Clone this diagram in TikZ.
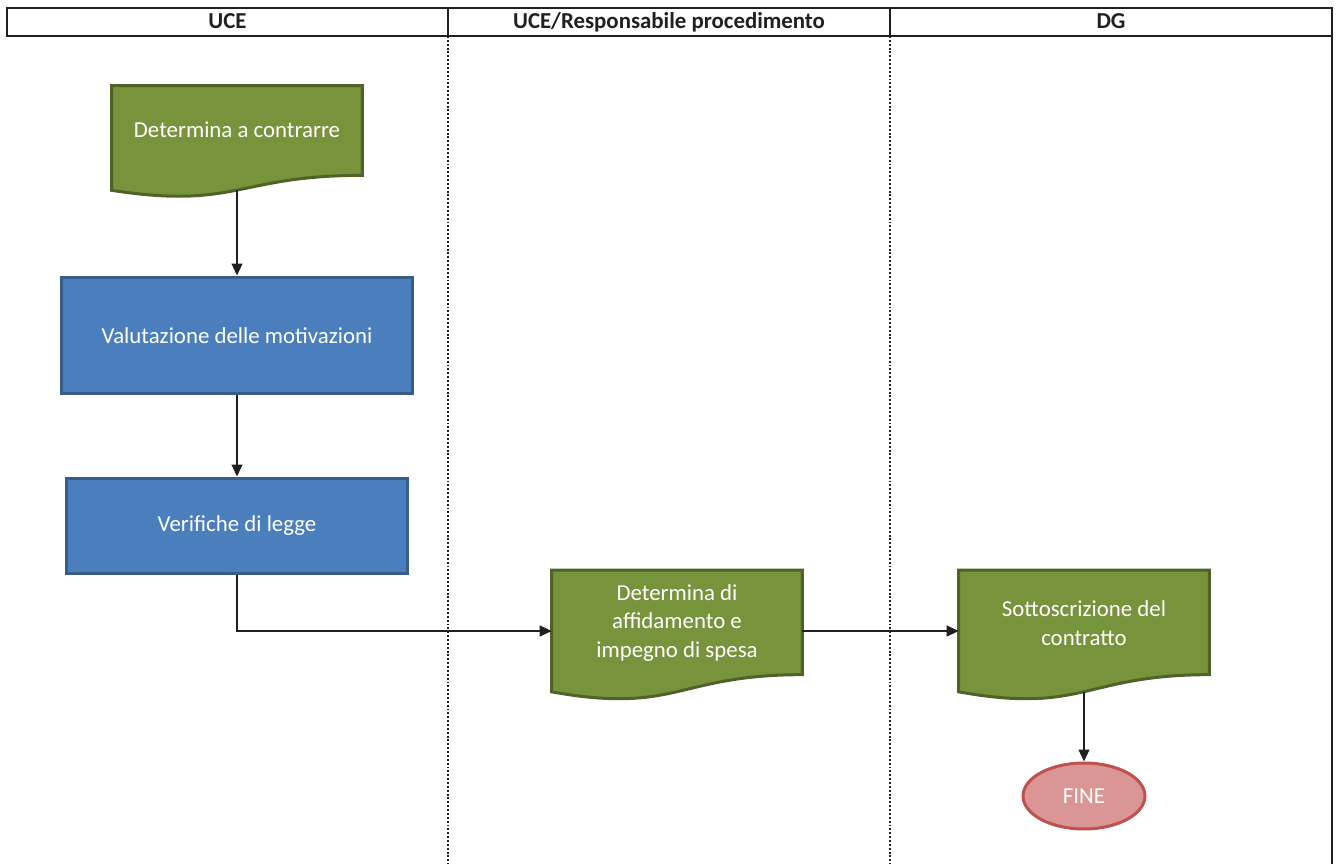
\documentclass[tikz,border=0pt]{standalone}
\usepackage{fontspec}
\setmainfont{Carlito}
\usetikzlibrary{arrows.meta,calc,shapes.geometric,backgrounds}
\definecolor{DocFill}{RGB}{119,147,60}
\definecolor{DocLine}{RGB}{79,98,40}
\definecolor{BoxFill}{RGB}{74,126,188}
\definecolor{BoxLine}{RGB}{56,93,138}
\definecolor{EndFill}{RGB}{217,150,148}
\definecolor{EndLine}{RGB}{192,80,77}
\definecolor{ArrClr}{RGB}{35,31,32}

\begin{document}
\begin{tikzpicture}[x=0.02cm,y=-0.02cm,
  lanehead/.style={anchor=base,font=\bfseries\fontsize{13}{16}\selectfont,text=ArrClr},
  laneline/.style={line width=1.1pt,color=ArrClr},
  lanedots/.style={line width=1.1pt,color=ArrClr,dash pattern=on 1.1pt off 1.1pt},
  docbox/.style={minimum width=5cm,text width=4.6cm,align=flush center,inner sep=0pt,text=white,font=\fontsize{13}{16.2}\selectfont,execute at end node={\endgraf\kern0.32cm}},
  docshape/.style={fill=DocFill,draw=DocLine,line width=1.7pt},
  taskbox/.style={rectangle,fill=BoxFill,draw=BoxLine,line width=1.7pt,text=white,font=\fontsize{13}{16.2}\selectfont},
  endbox/.style={ellipse,fill=EndFill,draw=EndLine,line width=1.7pt,text=white,font=\fontsize{13}{16.2}\selectfont,minimum width=2.44cm,minimum height=1.32cm},
  flow/.style={-{Triangle[length=6.8pt,width=6.2pt]},line width=0.75pt,color=ArrClr}]
\useasboundingbox (0,0) rectangle (1336,864);

\draw[laneline] (7,8) rectangle (1332,36);
\draw[laneline] (448,8) -- (448,36);
\draw[laneline] (890,8) -- (890,36);
\draw[laneline] (1332,36) -- (1332,864);
\draw[lanedots] (448,36) -- (448,864);
\draw[lanedots] (890,36) -- (890,864);

\node[lanehead] (uce) at (227.5,29) {UCE};
\node[lanehead] (resp) at (669,29) {UCE/Responsabile procedimento};
\node[lanehead] (dg) at (1111,29) {DG};

\node[docbox,minimum height=2.08cm] (contrarre) at (237,138) {Determina a contrarre};
\node[taskbox,minimum width=7.04cm,minimum height=2.34cm] (valutazione) at (237,335.5) {Valutazione delle motivazioni};
\node[taskbox,minimum width=6.84cm,minimum height=1.92cm] (verifiche) at (237,526) {Verifiche di legge};
\node[docbox,minimum height=2.42cm] (affid) at (677,631) {Determina di\\affidamento e\\impegno di spesa};
\node[docbox,minimum height=2.42cm] (sottos) at (1084,631) {Sottoscrizione del\\contratto};
\node[endbox] (fine) at (1084,796) {FINE};

\begin{scope}[on background layer]
\draw[docshape] (contrarre.north west) -- (contrarre.north east) -- ($(contrarre.north east)!0.857!(contrarre.south east)$) .. controls ($(contrarre.north)!0.857!(contrarre.south)$) and ($(contrarre.north)!1.185!(contrarre.south)$) .. (contrarre.south west) -- cycle;
\draw[docshape] (affid.north west) -- (affid.north east) -- ($(affid.north east)!0.859!(affid.south east)$) .. controls ($(affid.north)!0.859!(affid.south)$) and ($(affid.north)!1.185!(affid.south)$) .. (affid.south west) -- cycle;
\draw[docshape] (sottos.north west) -- (sottos.north east) -- ($(sottos.north east)!0.859!(sottos.south east)$) .. controls ($(sottos.north)!0.859!(sottos.south)$) and ($(sottos.north)!1.185!(sottos.south)$) .. (sottos.south west) -- cycle;
\end{scope}

\draw[flow] (contrarre) -- (valutazione);
\draw[flow] (valutazione) -- (verifiche);
\draw[flow] (verifiche) |- (affid);
\draw[flow] (affid) -- (sottos);
\draw[flow] (sottos) -- (fine);

\end{tikzpicture}
\end{document}
